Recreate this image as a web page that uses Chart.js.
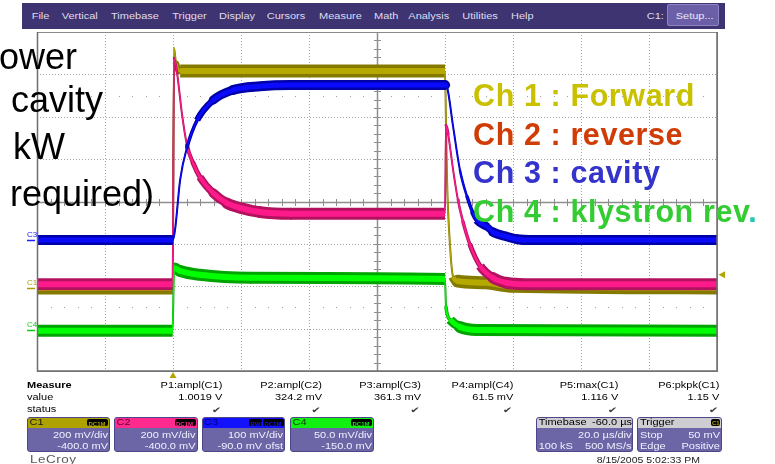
<!DOCTYPE html>
<html><head><meta charset="utf-8">
<script src="https://cdn.jsdelivr.net/npm/chart.js@4.4.0/dist/chart.umd.min.js"></script>
<style>
html,body{margin:0;padding:0;background:#fff;}
#wrap{position:relative;width:775px;height:464px;overflow:hidden;font-family:"Liberation Sans",Arial,sans-serif;}
canvas{position:absolute;left:0;top:0;}
.t{position:absolute;white-space:nowrap;line-height:1;}
.rect{position:absolute;box-sizing:border-box;}
</style></head>
<body><div id="wrap"><canvas id="c" width="775" height="464"></canvas></div>
<script>
// ---------------- data (time in µs, trigger at 0; amplitude in divisions) ----------------
const timeC1 = [-40, -0.1, 0.3, 0.9, 2.1, 80.0, 80.3, 80.6, 81.5, 82.4, 83.8, 92, 100, 160];
const voltC1 = [-2.04, -2.04, 3.62, 3.25, 3.08, 3.08, 1.80, 0.51, -1.07, -1.78, -1.88, -1.92, -2.00, -2.04];

const timeC2 = [-40, -0.1, 0.3, 1.2, 2.6, 4.1, 5.9, 7.9, 11.8, 15.9, 19.7, 25.6, 34.4, 80.0, 80.3, 80.9, 82.4, 83.8, 85.3, 87.4, 90.3, 94.1, 98.2, 103.5, 160];
const voltC2 = [-1.95, -1.95, 3.38, 3.03, 2.09, 1.33, 0.91, 0.58, 0.20, -0.04, -0.15, -0.25, -0.29, -0.29, 1.80, 1.60, 0.74, 0.04, -0.48, -1.03, -1.52, -1.80, -1.92, -1.95, -1.95];

const timeC3 = [-40, 0.0, 0.6, 2.1, 4.1, 7.1, 11.8, 17.6, 25.6, 34.4, 80.0, 80.6, 82.4, 84.4, 86.5, 88.2, 89.4, 92.4, 94.1, 98.2, 101.2, 105, 160];
const voltC3 = [-0.91, -0.91, -0.67, 0.51, 1.27, 1.92, 2.39, 2.63, 2.72, 2.75, 2.75, 2.70, 1.76, 0.74, 0.11, -0.27, -0.44, -0.60, -0.72, -0.83, -0.89, -0.91, -0.91];

const timeC4 = [-40, -0.1, 0.3, 2.1, 7.9, 22.6, 80.0, 80.3, 81.5, 84.4, 89.4, 160];
const voltC4 = [-3.05, -3.05, -1.57, -1.64, -1.73, -1.80, -1.83, -2.49, -2.79, -2.96, -3.03, -3.05];

const channelNames = ['C1', 'C2', 'C3', 'C4'];
const groundLevels = [-2.04, -1.95, -0.91, -3.03];
const triggerLevel = -1.73;
const triggerTime = 0;

const menuItems = ['File','Vertical','Timebase','Trigger','Display','Cursors','Measure','Math','Analysis','Utilities','Help'];
const measureNames = ['P1:ampl(C1)','P2:ampl(C2)','P3:ampl(C3)','P4:ampl(C4)','P5:max(C1)','P6:pkpk(C1)'];
const measureValues = ['1.0019 V','324.2 mV','361.3 mV','61.5 mV','1.116 V','1.15 V'];
const chVdiv = ['200 mV/div','200 mV/div','100 mV/div','50.0 mV/div'];
const chOffset = ['-400.0 mV','-400.0 mV','-90.0 mV ofst','-150.0 mV'];
const legendLines = ['Ch 1 : Forward','Ch 2 : reverse','Ch 3 : cavity','Ch 4 : klystron rev'];
const overlayLines = ['ower',' cavity',' kW','required)'];

// ---------------- chart ----------------
const W = 775;
function pts(ts, vs){ return ts.map((t,i)=>({x:t, y:vs[i]})); }
function flatness(a, b){ const dx = b.x - a.x, dy = b.y - a.y; const L = Math.hypot(dx, dy) || 1; return Math.abs(dx) / L; }
function layer(ts, vs, color, H, thin, order){
  return {
    data: pts(ts, vs), borderColor: color, borderWidth: H, pointRadius: 0,
    cubicInterpolationMode: 'monotone',
    clip: 0, order: order, fill: false, borderCapStyle: 'round', borderJoinStyle: 'round',
    segment: {
      borderWidth: c => Math.max(thin, Math.round(H * flatness(c.p0, c.p1) * 2) / 2),
      borderCapStyle: c => {
        if (flatness(c.p0, c.p1) < 0.5) return 'round';
        const el = c.chart.getDatasetMeta(c.datasetIndex).data;
        const i0 = c.p0DataIndex, i1 = c.p1DataIndex;
        const prevSteep = i0 > 0 && flatness(el[i0-1], el[i0]) < 0.5;
        const nextSteep = i1 < el.length - 1 && flatness(el[i1], el[i1+1]) < 0.5;
        return (prevSteep || nextSteep) ? 'butt' : 'round';
      }
    }
  };
}

const gridPlugin = {
  id: 'scopeGrid',
  beforeDatasetsDraw(chart){
    const {ctx, chartArea: a, scales: {x, y}} = chart;
    ctx.save();
    const ln = (x1,y1,x2,y2)=>{ctx.beginPath();ctx.moveTo(x1,y1);ctx.lineTo(x2,y2);ctx.stroke();};
    ctx.strokeStyle = '#a4a4a4'; ctx.lineWidth = 1; ctx.setLineDash([1,2]);
    for (let i = 1; i < 10; i++) {
      if (i === 5) continue;
      const px = Math.round(x.getPixelForValue(-40 + i*20)) + 0.5;
      ln(px, a.top, px, a.bottom);
    }
    for (let j = -3; j <= 3; j++) {
      if (j === 0) continue;
      const py = Math.round(y.getPixelForValue(j)) + 0.5;
      ln(a.left, py, a.right, py);
    }
    ctx.setLineDash([]);
    ctx.fillStyle = '#a0a0a0';
    for (const r of [2.5, -2.5]) {
      const py = Math.round(y.getPixelForValue(r));
      for (let k = 1; k < 50; k++) {
        if (k % 5 === 0) continue;
        const px = Math.round(x.getPixelForValue(-40 + k*4));
        ctx.fillRect(px, py, 1, 1);
      }
    }
    const cx = Math.round(x.getPixelForValue(60)) + 0.5;
    const cy = Math.round(y.getPixelForValue(0)) + 0.5;
    ctx.strokeStyle = '#8e8e8e'; ctx.lineWidth = 1.5;
    ln(cx, a.top, cx, a.bottom);
    ln(a.left, cy, a.right, cy);
    ctx.lineWidth = 1;
    for (let k = -20; k <= 20; k++) {
      const py = Math.round(y.getPixelForValue(k*0.2)) + 0.5;
      ln(cx - 3.5, py, cx + 3.5, py);
    }
    for (let k = 0; k <= 50; k++) {
      const px = Math.round(x.getPixelForValue(-40 + k*4)) + 0.5;
      ln(px, cy - 3.5, px, cy + 3.5);
    }
    ctx.restore();
  },
  afterDatasetsDraw(chart){
    const {ctx, chartArea: a, scales: {x, y}} = chart;
    ctx.save();
    ctx.strokeStyle = '#8a8a8a'; ctx.lineWidth = 1;
    ctx.strokeRect(Math.round(a.left)+0.5, Math.round(a.top)+0.5, Math.round(a.right-a.left), Math.round(a.bottom-a.top));
    ctx.strokeStyle = '#6e6e6e'; ctx.lineWidth = 1.5;
    ctx.beginPath(); ctx.moveTo(a.left+0.5, a.top); ctx.lineTo(a.left+0.5, a.bottom); ctx.lineTo(a.right, a.bottom); ctx.lineTo(a.right, a.top); ctx.stroke();
    ctx.fillStyle = '#b4a600';
    const tx = x.getPixelForValue(triggerTime);
    ctx.beginPath(); ctx.moveTo(tx, a.bottom+1); ctx.lineTo(tx-3.5, a.bottom+7); ctx.lineTo(tx+3.5, a.bottom+7); ctx.closePath(); ctx.fill();
    const ty = y.getPixelForValue(triggerLevel);
    ctx.beginPath(); ctx.moveTo(a.right+1.5, ty); ctx.lineTo(a.right+8, ty-3.5); ctx.lineTo(a.right+8, ty+3.5); ctx.closePath(); ctx.fill();
    const gcol = ['#a89c00','#e0107a','#2020ff','#10d010'];
    [0,2,3].forEach(i=>{
      const gy = Math.round(y.getPixelForValue(groundLevels[i])) + 0.5;
      ctx.strokeStyle = gcol[i]; ctx.lineWidth = 1.5;
      ctx.beginPath(); ctx.moveTo(a.left-10, gy); ctx.lineTo(a.left-2, gy); ctx.stroke();
    });
    ctx.restore();
  }
};

const chart = new Chart(document.getElementById('c'), {
  type: 'line',
  data: { datasets: [
    layer(timeC3, voltC3, '#0a0aff', 5, 1, 1),
    layer(timeC3, voltC3, '#0000a8', 10, 2, 2),
    layer(timeC4, voltC4, '#00ff00', 6, 1, 3),
    layer(timeC4, voltC4, '#00a400', 12, 2, 4),
    layer(timeC2, voltC2, '#ff1a8c', 6, 1, 5),
    layer(timeC2, voltC2, '#b3125f', 12, 2, 6),
    layer(timeC1, voltC1, '#b5a900', 6, 1, 7),
    layer(timeC1, voltC1, '#857a00', 13, 2, 8)
  ]},
  options: {
    responsive: false, animation: false, events: [],
    layout: { padding: { left: 37, right: 58, top: 32, bottom: 93 } },
    plugins: { legend: { display: false }, tooltip: { enabled: false } },
    scales: {
      x: { type: 'linear', min: -40, max: 160, display: false },
      y: { type: 'linear', min: -4, max: 4, display: false }
    }
  },
  plugins: [gridPlugin]
});

// ---------------- HTML text and panels ----------------
const wrap = document.getElementById('wrap');
function R(x, y, w, h, bg, extra){
  const d = document.createElement('div'); d.className = 'rect';
  d.style.left = x+'px'; d.style.top = y+'px'; d.style.width = w+'px'; d.style.height = h+'px';
  d.style.background = bg; if (extra) Object.assign(d.style, extra);
  wrap.appendChild(d); return d;
}
function T(s, x, base, size, o){
  o = o || {};
  const d = document.createElement('div'); d.className = 't'; d.textContent = s;
  d.style.fontSize = size + 'px';
  d.style.top = (base - 0.8465*size) + 'px';
  if (o.right) d.style.right = (W - x) + 'px'; else d.style.left = x + 'px';
  d.style.color = o.color || '#000';
  if (o.bold) d.style.fontWeight = 'bold';
  if (o.family) d.style.fontFamily = o.family;
  if (o.sy) { d.style.transform = 'scaleY(' + o.sy + ')'; d.style.transformOrigin = '0 ' + (0.8465*size) + 'px'; }
  if (o.ls) d.style.letterSpacing = o.ls + 'px';
  wrap.appendChild(d); return d;
}

// menu bar
R(22, 3, 703, 26, '#3e3471');
const menuX = [31.7, 61.7, 111, 172.3, 219, 266.7, 319, 374, 408.3, 462.3, 511];
menuItems.forEach((m,i)=>T(m, menuX[i], 19.5, 11, {color:'#dedcef', sy:0.85}));
T('C1:', 646.7, 19.5, 11, {color:'#dedcef', sy:0.85});
R(667, 4, 52, 22, '#6b60a8', {border:'1px solid #8c84c4', borderRadius:'2px'});
T('Setup...', 675.7, 19.5, 11, {color:'#e8e6f6', sy:0.85});

// overlay black text
const ovX = [-1, 1, 3, 10];
const ovB = [69, 112, 159, 206];
overlayLines.forEach((s,i)=>{ const d = T(s, ovX[i], ovB[i], 36, {}); d.style.whiteSpace = 'pre'; });

// legend
const legCol = ['#c9c100','#d03c06','#3434cc','#33cc33'];
const legB = [105.7, 144.5, 183, 221.7];
legendLines.forEach((s,i)=>{
  const d = T(s, 473, legB[i], 30.5, {bold:true, color:legCol[i], ls:0.6});
  if (i === 3) { const sp = document.createElement('span'); sp.textContent = '.'; sp.style.color = '#22c8b4'; d.appendChild(sp); }
});

// channel ground labels on the left
const gcolT = ['#a89c00','#e0107a','#2020ff','#10d010'];
[0,2,3].forEach(i=>{
  const gy = chart.scales.y.getPixelForValue(groundLevels[i]);
  T(channelNames[i], 27, gy - 2, 8, {color:gcolT[i], sy:0.9});
});

// measure panel
const S = 0.85;
T('Measure', 27, 388, 11, {bold:true, sy:S});
T('value', 27, 400.7, 11, {sy:S});
T('status', 27, 412.7, 11, {sy:S});
const colR = [222.3, 322, 421, 513.3, 618.3, 719.3];
measureNames.forEach((s,i)=>{
  T(s, colR[i], 388, 11, {right:true, sy:S});
  T(measureValues[i], colR[i], 400.7, 11, {right:true, sy:S});
  T('\u2714', colR[i]-1, 413.5, 11.5, {right:true, color:'#3c3c3c', family:'"DejaVu Sans",sans-serif', sy:0.75});
});

// channel boxes
const boxL = [27, 114, 201.5, 290];
const boxR = [110, 197.5, 285, 374];
const hdrCol = ['#ada200','#ff2a8e','#1212ff','#12f012'];
const hdrTxt = ['#1a1800','#5a0030','#000070','#004000'];
channelNames.forEach((c,i)=>{
  const bw = boxR[i]-boxL[i];
  const b = R(boxL[i], 417, bw, 35, '#6c65a6', {border:'1px solid #4d4688', borderRadius:'3px', overflow:'hidden'});
  const h = document.createElement('div'); Object.assign(h.style, {position:'absolute', left:'0', top:'0', right:'0', height:'10px', background:hdrCol[i]});
  b.appendChild(h);
  T(c, boxL[i]+2.5, 425.7, 11, {color:hdrTxt[i], sy:S});
  const badges = i === 2 ? [['BWL', 249, 13], ['DC1M', 263, 21]] : [['DC1M', boxR[i]-23, 21]];
  badges.forEach(bd=>{
    R(bd[1], 419.3, bd[2], 7, '#000', {borderRadius:'2px'});
    T(bd[0], bd[1]+1.5, 425.6, 6, {bold:true, color:hdrCol[i]});
  });
  T(chVdiv[i], boxR[i]-2, 438.3, 11, {right:true, color:'#f0f0ff', sy:S});
  T(chOffset[i], boxR[i]-2, 449.3, 11, {right:true, color:'#f0f0ff', sy:S});
});

// timebase & trigger boxes
function infoBox(x1, x2){
  const b = R(x1, 417, x2-x1, 35, '#6c65a6', {border:'1px solid #4d4688', borderRadius:'3px', overflow:'hidden'});
  const h = document.createElement('div'); Object.assign(h.style, {position:'absolute', left:'0', top:'0', right:'0', height:'10px', background:'#cdcdd2'});
  b.appendChild(h);
}
infoBox(536, 633.3);
T('Timebase', 538.7, 425.7, 11, {sy:S});
T('-60.0 \u00b5s', 632, 425.7, 11, {right:true, sy:S});
T('20.0 \u00b5s/div', 631.5, 438.3, 11, {right:true, color:'#f0f0ff', sy:S});
T('100 kS', 538.7, 449.3, 11, {color:'#f0f0ff', sy:S});
T('500 MS/s', 631.5, 449.3, 11, {right:true, color:'#f0f0ff', sy:S});
infoBox(637.3, 722);
T('Trigger', 640, 425.7, 11, {sy:S});
R(711, 419, 9, 7, '#000', {borderRadius:'2px'});
T('C1', 712, 425.4, 6, {bold:true, color:'#ada200'});
T('Stop', 640, 438.3, 11, {color:'#f0f0ff', sy:S});
T('50 mV', 720, 438.3, 11, {right:true, color:'#f0f0ff', sy:S});
T('Edge', 640, 449.3, 11, {color:'#f0f0ff', sy:S});
T('Positive', 720, 449.3, 11, {right:true, color:'#f0f0ff', sy:S});

T('8/15/2005 5:02:33 PM', 700, 462.5, 10.5, {right:true, color:'#222', sy:0.85});
T('LeCroy', 30, 463.5, 13.5, {color:'#5a5a5a', sy:0.78, ls:0.5});
</script>
</body></html>
